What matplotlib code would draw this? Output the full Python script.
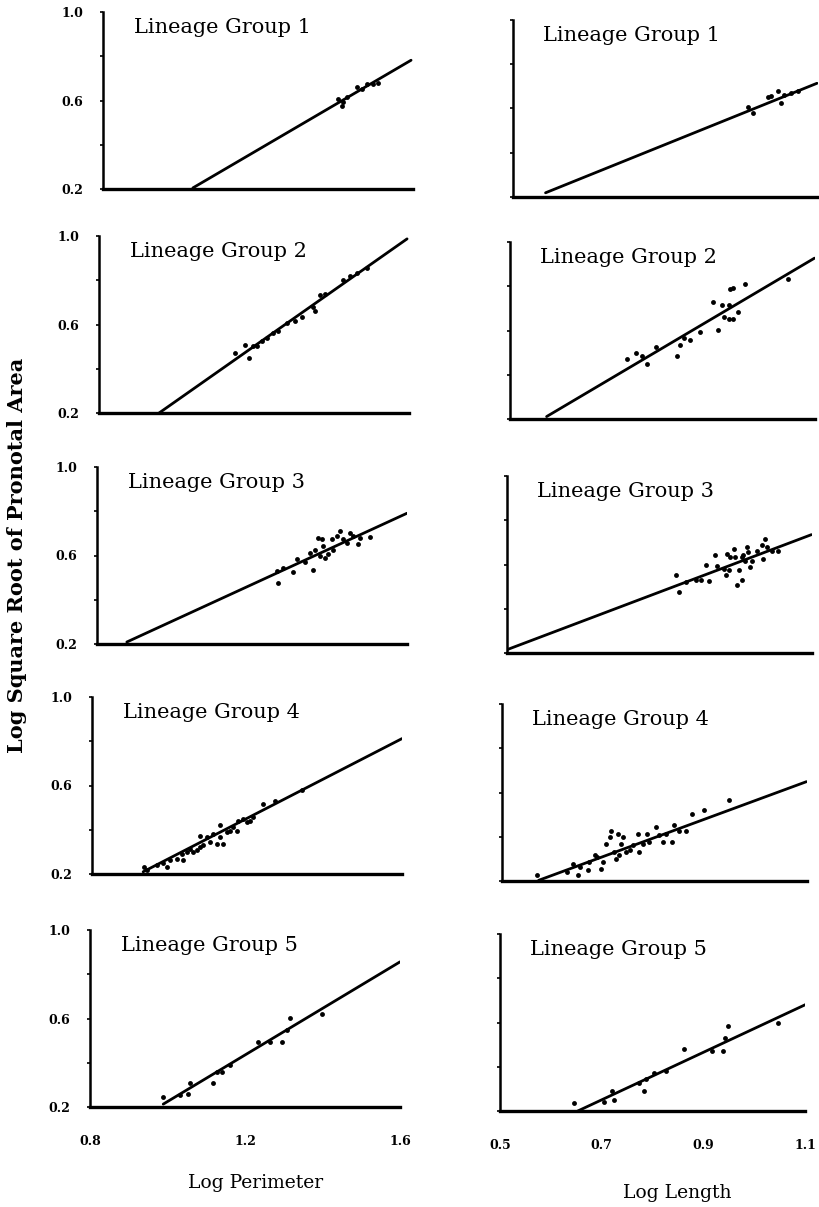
"""Log square root of pronotal area vs log perimeter / log length, five lineage groups."""
import matplotlib
matplotlib.use("Agg")
import matplotlib.pyplot as plt

plt.rcParams["font.family"] = ["DejaVu Serif"]

groups = ["Lineage Group 1", "Lineage Group 2", "Lineage Group 3",
          "Lineage Group 4", "Lineage Group 5"]

# ---- left column: log perimeter ----
perim_g1 = [1.406, 1.417, 1.419, 1.430, 1.455, 1.468, 1.481, 1.497, 1.510]
area_p_g1 = [0.605, 0.573, 0.591, 0.618, 0.659, 0.650, 0.673, 0.673, 0.677]

perim_g2 = [1.151, 1.176, 1.188, 1.198, 1.207, 1.220, 1.233, 1.250, 1.263, 1.284,
            1.306, 1.323, 1.353, 1.357, 1.370, 1.383, 1.430, 1.447, 1.465, 1.491]
area_p_g2 = [0.469, 0.507, 0.449, 0.502, 0.505, 0.525, 0.540, 0.563, 0.571, 0.605,
             0.617, 0.632, 0.678, 0.663, 0.732, 0.736, 0.802, 0.817, 0.832, 0.855]

perim_g3 = [1.268, 1.264, 1.281, 1.307, 1.315, 1.337, 1.358, 1.350, 1.371, 1.375,
            1.384, 1.388, 1.397, 1.406, 1.419, 1.427, 1.436, 1.453, 1.461, 1.474,
            1.479, 1.505, 1.410, 1.444, 1.363, 1.380]
area_p_g3 = [0.476, 0.529, 0.544, 0.524, 0.582, 0.570, 0.533, 0.612, 0.680, 0.597,
             0.642, 0.590, 0.605, 0.673, 0.688, 0.711, 0.673, 0.703, 0.688, 0.650,
             0.680, 0.685, 0.627, 0.658, 0.627, 0.673]

perim_g4 = [0.934, 0.941, 0.967, 0.984, 0.993, 1.001, 1.019, 1.031, 1.036, 1.044,
            1.053, 1.061, 1.070, 1.079, 1.087, 1.079, 1.096, 1.105, 1.113, 1.122,
            1.130, 1.130, 1.139, 1.148, 1.156, 1.165, 1.173, 1.178, 1.190, 1.199,
            1.208, 1.216, 1.242, 1.272, 1.341]
area_p_g4 = [0.230, 0.218, 0.240, 0.248, 0.233, 0.262, 0.270, 0.292, 0.262, 0.300,
             0.315, 0.300, 0.307, 0.322, 0.329, 0.374, 0.367, 0.344, 0.382, 0.337,
             0.423, 0.367, 0.337, 0.389, 0.396, 0.411, 0.396, 0.441, 0.449, 0.433,
             0.441, 0.456, 0.516, 0.530, 0.578]

perim_g5 = [0.988, 1.032, 1.054, 1.058, 1.118, 1.127, 1.140, 1.161, 1.234, 1.265,
            1.295, 1.308, 1.316, 1.398]
area_p_g5 = [0.246, 0.254, 0.261, 0.308, 0.308, 0.358, 0.358, 0.392, 0.495, 0.492,
             0.495, 0.547, 0.603, 0.621]

perim_fit_x = [[1.032, 1.595], [0.955, 1.595], [0.877, 1.600], [0.932, 1.600], [0.989, 1.600]]
perim_fit_y = [[0.205, 0.782], [0.200, 0.987], [0.209, 0.791], [0.210, 0.812], [0.213, 0.856]]

# ---- right column: log length ----
length_g1 = [0.962, 0.972, 1.001, 1.008, 1.021, 1.028, 1.034, 1.047, 1.060]
area_l_g1 = [0.609, 0.579, 0.651, 0.657, 0.677, 0.624, 0.661, 0.672, 0.681]

length_g2 = [0.731, 0.747, 0.760, 0.770, 0.787, 0.829, 0.835, 0.842, 0.855, 0.874,
             0.910, 0.900, 0.917, 0.930, 0.920, 0.930, 0.939, 0.949, 0.933, 0.939,
             0.962, 1.047]
area_l_g2 = [0.470, 0.499, 0.485, 0.448, 0.524, 0.485, 0.536, 0.566, 0.558, 0.595,
             0.603, 0.728, 0.716, 0.713, 0.662, 0.654, 0.654, 0.684, 0.787, 0.794,
             0.809, 0.831]

length_g3 = [0.832, 0.838, 0.852, 0.871, 0.881, 0.891, 0.897, 0.910, 0.913, 0.926,
             0.930, 0.933, 0.939, 0.946, 0.949, 0.952, 0.956, 0.962, 0.965, 0.969,
             0.972, 0.975, 0.979, 0.982, 0.991, 1.001, 1.004, 1.008, 1.011, 1.021,
             1.034, 0.962, 0.936]
area_l_g3 = [0.551, 0.476, 0.521, 0.532, 0.532, 0.596, 0.526, 0.641, 0.591, 0.581,
             0.551, 0.648, 0.633, 0.671, 0.633, 0.506, 0.574, 0.529, 0.641, 0.618,
             0.678, 0.656, 0.588, 0.618, 0.663, 0.686, 0.626, 0.716, 0.678, 0.663,
             0.663, 0.633, 0.574]

length_g4 = [0.568, 0.627, 0.640, 0.650, 0.653, 0.669, 0.672, 0.686, 0.695, 0.698,
             0.705, 0.712, 0.715, 0.721, 0.725, 0.731, 0.734, 0.738, 0.744, 0.751,
             0.757, 0.770, 0.767, 0.777, 0.786, 0.790, 0.803, 0.809, 0.816, 0.822,
             0.835, 0.838, 0.848, 0.861, 0.874, 0.897, 0.946, 0.682, 0.728]
area_l_g4 = [0.226, 0.241, 0.278, 0.226, 0.263, 0.248, 0.286, 0.308, 0.256, 0.286,
             0.368, 0.398, 0.428, 0.331, 0.301, 0.316, 0.368, 0.398, 0.331, 0.338,
             0.361, 0.331, 0.413, 0.368, 0.413, 0.376, 0.443, 0.406, 0.376, 0.413,
             0.376, 0.451, 0.428, 0.428, 0.504, 0.522, 0.564, 0.316, 0.413]

length_g5 = [0.645, 0.705, 0.725, 0.721, 0.773, 0.783, 0.787, 0.803, 0.826, 0.861,
             0.917, 0.939, 0.943, 0.949, 1.047]
area_l_g5 = [0.236, 0.240, 0.248, 0.292, 0.325, 0.292, 0.345, 0.374, 0.379, 0.479,
             0.471, 0.471, 0.530, 0.583, 0.597]

length_fit_x = [[0.564, 1.098], [0.572, 1.099], [0.500, 1.099], [0.572, 1.099], [0.653, 1.102]]
length_fit_y = [[0.219, 0.714], [0.211, 0.927], [0.215, 0.735], [0.203, 0.649], [0.200, 0.682]]

perim_x = [perim_g1, perim_g2, perim_g3, perim_g4, perim_g5]
perim_y = [area_p_g1, area_p_g2, area_p_g3, area_p_g4, area_p_g5]
length_x = [length_g1, length_g2, length_g3, length_g4, length_g5]
length_y = [area_l_g1, area_l_g2, area_l_g3, area_l_g4, area_l_g5]

perim_ticks = [0.8, 1.2, 1.6]
length_ticks = [0.5, 0.7, 0.9, 1.1]
area_ticks = [0.2, 0.6, 1.0]

W, H = 820, 1207
fig = plt.figure(figsize=(W / 100, H / 100), dpi=100)

# axes placement in pixels (scan is slightly skewed, so each panel shifts a bit)
left_px = [[103, 99, 97, 92, 90], [513, 510, 507, 502, 500]]
base_px = [[189, 413, 644, 874, 1107], [197, 419, 653, 881, 1111]]
width_px = [310, 305]
height_px = 177


def draw_panel(ax, xs, ys, fx, fy, title, xlim):
    ax.plot(xs, ys, "o", color="black", markersize=3.5, markeredgewidth=0)
    ax.plot(fx, fy, color="black", lw=2.0, solid_capstyle="round")
    ax.set_xlim(xlim)
    ax.set_ylim(0.2, 1.0)
    for s in ["top", "right"]:
        ax.spines[s].set_visible(False)
    ax.spines["left"].set_linewidth(1.8)
    ax.spines["bottom"].set_linewidth(2.4)
    ax.text(0.10, 0.91, title, transform=ax.transAxes, fontsize=15,
            va="center", ha="left")


for col in range(2):
    for row in range(5):
        l = left_px[col][row] / W
        b = 1 - base_px[col][row] / H
        ax = fig.add_axes([l, b, width_px[col] / W, height_px / H])
        if col == 0:
            draw_panel(ax, perim_x[row], perim_y[row], perim_fit_x[row],
                       perim_fit_y[row], groups[row], (0.8, 1.6))
            ax.set_yticks(area_ticks)
            ax.set_yticks([0.4, 0.8], minor=True)
            ax.set_yticklabels(["%.1f" % t for t in area_ticks],
                               fontsize=9, fontweight="bold")
            ax.tick_params(axis="y", which="both", direction="out", length=2,
                           width=1.2, pad=12)
            xt = perim_ticks
        else:
            draw_panel(ax, length_x[row], length_y[row], length_fit_x[row],
                       length_fit_y[row], groups[row], (0.5, 1.1))
            ax.set_yticks([0.2, 0.4, 0.6, 0.8, 1.0])
            ax.set_yticklabels([])
            ax.tick_params(axis="y", direction="out", length=2, width=1.2)
            xt = length_ticks
        ax.set_xticks(xt)
        if row == 4:
            ax.set_xticklabels(["%.1f" % t for t in xt], fontsize=9,
                               fontweight="bold")
            ax.tick_params(axis="x", length=0, pad=20)
        else:
            ax.set_xticklabels([])
            ax.tick_params(axis="x", length=0)

fig.text(0.021, 1 - 555 / H, "Log Square Root of Pronotal Area", rotation=90,
         fontsize=15, fontweight="bold", ha="center", va="center")
fig.text(256 / W, 1 - 1183 / H, "Log Perimeter", fontsize=13.5,
         ha="center", va="center")
fig.text(677 / W, 1 - 1193 / H, "Log Length", fontsize=13.5,
         ha="center", va="center")

fig.savefig("out.png", dpi=100)
